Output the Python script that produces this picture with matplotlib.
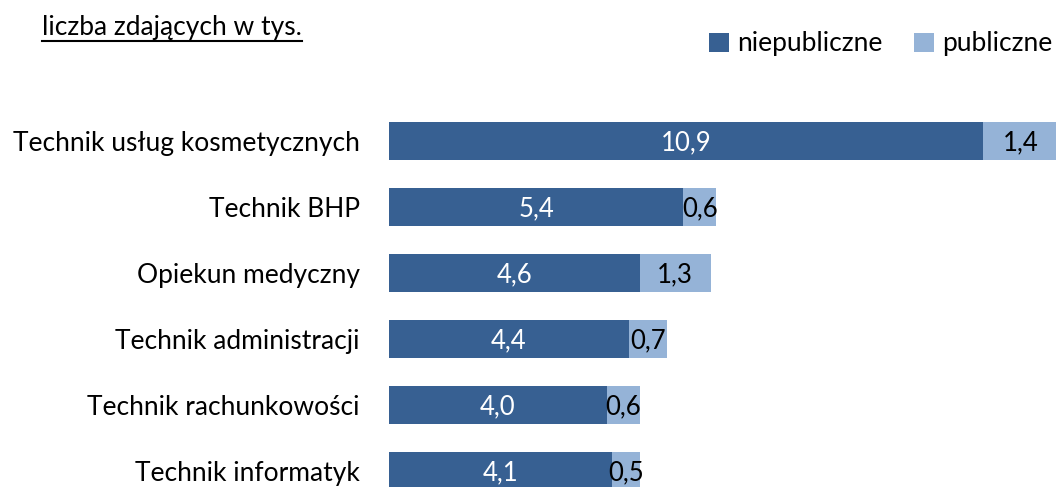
import matplotlib.pyplot as plt
from matplotlib.lines import Line2D

# liczba zdających w tys.
categories = ['Technik usług kosmetycznych', 'Technik BHP', 'Opiekun medyczny',
              'Technik administracji', 'Technik rachunkowości', 'Technik informatyk']
niepubliczne = [10.9, 5.4, 4.6, 4.4, 4.0, 4.1]
publiczne = [1.4, 0.6, 1.3, 0.7, 0.6, 0.5]

dark = '#376092'
light = '#95B3D7'
plt.rcParams['font.family'] = ['Lato', 'DejaVu Sans']

W, H = 1056, 487
fig = plt.figure(figsize=(W / 100, H / 100), dpi=100)

# axes placed in pixel terms; bottom and right run past the figure edge (clipped like the original)
px_per_unit = 54.5
xmax = 13.0
left_px, top_px, band = 389, 108, 66
ax = fig.add_axes([left_px / W, (H - (top_px + band * len(categories))) / H,
                   xmax * px_per_unit / W, band * len(categories) / H])

y = list(range(len(categories)))
ax.barh(y, niepubliczne, height=0.57, color=dark, label='niepubliczne')
ax.barh(y, publiczne, left=niepubliczne, height=0.57, color=light, label='publiczne')

for i in y:
    ax.text(niepubliczne[i] / 2, i + 0.03, f'{niepubliczne[i]:.1f}'.replace('.', ','),
            ha='center', va='center', color='white', fontsize=18.5)
    ax.text(niepubliczne[i] + publiczne[i] / 2, i + 0.03, f'{publiczne[i]:.1f}'.replace('.', ','),
            ha='center', va='center', color='black', fontsize=18.5)

ax.set_xlim(0, xmax)
ax.set_ylim(len(categories) - 0.5, -0.5)
ax.set_yticks(y)
ax.set_yticklabels(categories, fontsize=19)
ax.tick_params(axis='y', length=0, pad=21)
ax.set_xticks([])
for s in ax.spines.values():
    s.set_visible(False)

# underlined subtitle
t = fig.text(42 / W, 1 - 28 / H, 'liczba zdających w tys.', fontsize=19, va='center', ha='left')
fig.canvas.draw()
bb = t.get_window_extent()
fig.add_artist(Line2D([bb.x0 / W, bb.x1 / W], [(H - 41) / H, (H - 41) / H],
                      color='black', lw=1.5, transform=fig.transFigure))

fig.legend(loc='center right', bbox_to_anchor=(1 - 4 / W, 1 - 44 / H), ncol=2, frameon=False,
           fontsize=19, handlelength=0.75, handleheight=0.75, handletextpad=0.3,
           columnspacing=1.2, borderaxespad=0, borderpad=0)

fig.savefig('out.png', dpi=100)
